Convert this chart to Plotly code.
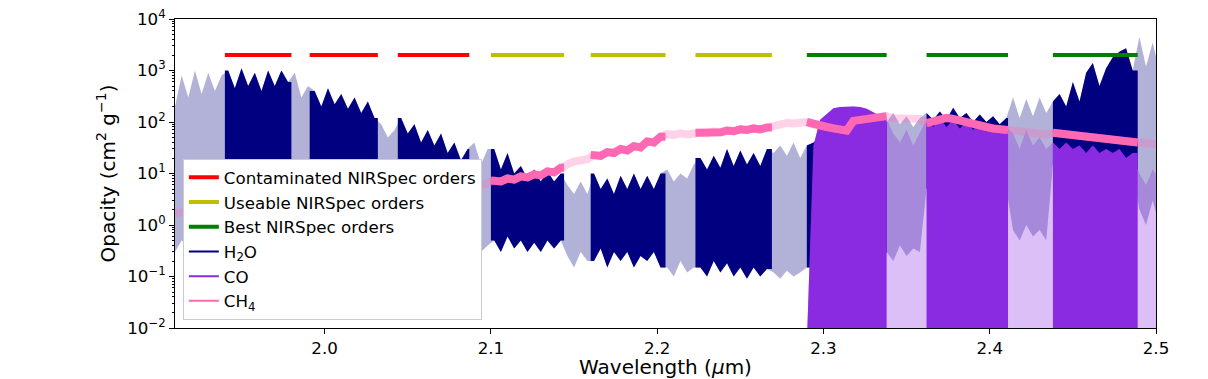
"""
Opacity of H2O, CO and CH4 across the K band, with the NIRSpec orders marked.
The line forests are drawn as filled bands between the lower and upper
envelopes read off the spectrum; inside an order they are drawn solid,
outside it faded.
"""

import numpy as np
import plotly.graph_objects as go

# ---------------------------------------------------------------- data
# sampling grid of the envelopes (micron)
wavelength = np.round(np.arange(1.910, 2.503, 0.004), 3)

# H2O: upper envelope (line peaks) and lower envelope, cm^2 g^-1
h2o_top = [
    200, 800, 300, 1000, 350, 900, 400, 800,
    1000, 450, 1100, 500, 900, 400, 1000, 500, 1000, 600,
    900, 300, 500,
    400, 200, 450, 220, 350, 180, 300, 150, 250, 120,
    90, 50, 70,
    120, 60, 90, 40, 70, 35, 60, 25, 40, 18, 30,
    40, 15, 30,
    30, 12, 25, 10, 14, 8, 12, 7, 11, 7, 10,
    6, 4, 7, 4,
    10, 5, 8, 4, 9, 5, 10, 5, 9, 5, 10,
    12, 7, 10, 8, 15,
    20, 12, 22, 13, 30, 14, 28, 15, 25, 14, 30,
    25, 35, 22, 40, 20, 35,
    40, 50, 80, 50, 90, 60, 80, 50, 70, 60, 80,
    100, 150, 90, 130, 80, 120,
    150, 110, 160, 110, 190, 120, 150, 100, 140, 100, 130, 90, 120,
    300, 120, 280, 130, 300, 150,
    250, 350, 200, 600, 250, 900, 1400, 500, 1100, 1800, 2300, 2700, 1000,
    4500, 1200, 3500, 1000,
]
h2o_base = [
    0.3, 0.5, 0.4, 0.6, 0.5, 0.7, 0.5, 0.6,
    0.6, 0.8, 0.5, 0.7, 0.6, 0.8, 0.5, 0.7, 0.6, 0.7,
    0.5, 0.6, 0.5,
    0.6, 0.5, 0.7, 0.5, 0.6, 0.4, 0.6, 0.5, 0.6, 0.4,
    0.5, 0.4, 0.5,
    0.5, 0.4, 0.6, 0.4, 0.5, 0.3, 0.5, 0.4, 0.5, 0.3, 0.4,
    0.4, 0.3, 0.4,
    0.5, 0.3, 0.6, 0.35, 0.5, 0.3, 0.45, 0.3, 0.5, 0.35, 0.5,
    0.25, 0.15, 0.3, 0.2,
    0.2, 0.35, 0.15, 0.3, 0.2, 0.3, 0.15, 0.25, 0.2, 0.3, 0.15,
    0.15, 0.1, 0.2, 0.12, 0.15,
    0.15, 0.1, 0.2, 0.12, 0.18, 0.1, 0.15, 0.09, 0.15, 0.1, 0.14,
    0.12, 0.09, 0.13, 0.1, 0.12, 0.15,
    0.15, 0.2, 0.15, 0.2, 0.15, 0.2, 0.15, 0.2, 0.15, 0.2, 0.15,
    0.3, 0.2, 0.4, 0.25, 0.35, 0.3,
    5, 8, 4, 10, 5, 8, 4, 8, 5, 9, 4, 7, 5,
    0.8, 0.5, 1, 0.6, 0.8, 0.5,
    15, 20, 12, 18, 14, 20, 12, 18, 14, 16, 12, 15, 12,
    2, 1, 3, 1,
]

# CO: only redward of the 2-0 band head; lines reach below the axis floor
co_start = 2.290
co_top = [
    0.005,
    35, 110, 145, 185, 195, 200, 200, 195, 180, 155, 130, 115,
    60, 40, 70, 35, 60,
    110, 80, 120, 80, 110, 75, 100, 70, 95, 65, 90, 60, 80,
    60, 30, 70, 35, 50, 30,
    40, 30, 40, 30, 35, 25, 35, 25, 30, 25, 30, 20, 25,
    10, 6, 12, 8,
]
co_floor = 0.005

# CH4: narrow pseudo-continuum
ch4_mid = [
    1.7, 1.8, 1.75, 1.9, 1.85, 2.0, 1.95, 2.1,
    2.05, 2.2, 2.15, 2.3, 2.25, 2.45, 2.4, 2.55, 2.5, 2.7,
    2.65, 2.85, 2.8,
    3.0, 2.95, 3.2, 3.1, 3.4, 3.3, 3.6, 3.5, 3.8, 3.75,
    4.0, 3.95, 4.2,
    4.15, 4.45, 4.4, 4.7, 4.65, 5.0, 4.9, 5.3, 5.2, 5.6, 5.5,
    6.0, 5.9, 6.4,
    7.3, 7.0, 8.0, 7.6, 8.8, 8.4, 9.6, 9.2, 11, 10.5, 13,
    15, 17, 18, 19,
    23, 22, 26, 25, 30, 28, 34, 32, 42, 40, 52,
    58, 56, 60, 57, 60,
    62, 60, 65, 63, 68, 66, 72, 70, 75, 72, 78,
    88, 92, 96, 94, 100, 100,
    90, 85, 80, 75, 70, 68, 105, 110, 115, 120, 125, 130,
    118, 115, 120, 110, 115,
    95, 105, 110, 120, 115, 105, 100, 90, 85, 80, 75, 72, 70,
    65, 62, 60, 58, 58, 57,
    62, 60, 58, 55, 53, 52, 50, 48, 46, 45, 43, 42, 40,
    40, 38, 37, 36,
]

# NIRSpec echelle orders (micron)
contaminated_orders = [(1.940, 1.980), (1.991, 2.032), (2.044, 2.087)]
useable_orders = [(2.100, 2.144), (2.160, 2.205), (2.223, 2.269)]
best_orders = [(2.290, 2.338), (2.362, 2.411), (2.438, 2.489)]
order_level = 2000

# ---------------------------------------------------------------- helpers
all_orders = contaminated_orders + useable_orders + best_orders


def clip_to(wl, values, lo, hi):
    """Samples inside [lo, hi], held out to the exact order edges."""
    values = np.asarray(values, dtype=float)
    idx = np.flatnonzero((wl >= lo) & (wl <= hi))
    x = np.r_[lo, wl[idx], hi]
    y = np.r_[values[idx[0]], values[idx], values[idx[-1]]]
    return x, y


def add_band(fig, wl, lower, upper, color):
    fig.add_trace(go.Scatter(x=wl, y=lower, mode="lines", line=dict(width=0),
                             showlegend=False, hoverinfo="skip"))
    fig.add_trace(go.Scatter(x=wl, y=upper, mode="lines", line=dict(width=0),
                             fill="tonexty", fillcolor=color,
                             showlegend=False, hoverinfo="skip"))


def add_species_band(fig, wl, lower, upper, solid, faded):
    add_band(fig, wl, lower, upper, faded)
    for lo, hi in all_orders:
        if hi < wl[0]:
            continue
        x, ylo = clip_to(wl, lower, lo, hi)
        _, yhi = clip_to(wl, upper, lo, hi)
        add_band(fig, x, ylo, yhi, solid)


fig = go.Figure()

# H2O
add_species_band(fig, wavelength, h2o_base, h2o_top,
                 "#000080", "rgba(0,0,128,0.3)")

# CO
co_wl = wavelength[wavelength >= co_start]
add_species_band(fig, co_wl, [co_floor] * len(co_wl), co_top,
                 "#8a2be2", "rgba(138,43,226,0.3)")

# CH4
fig.add_trace(go.Scatter(x=wavelength, y=ch4_mid, mode="lines",
                         line=dict(color="rgba(255,105,180,0.3)", width=8),
                         showlegend=False, hoverinfo="skip"))
for lo, hi in all_orders:
    x, y = clip_to(wavelength, ch4_mid, lo, hi)
    fig.add_trace(go.Scatter(x=x, y=y, mode="lines",
                             line=dict(color="#ff69b4", width=8),
                             showlegend=False, hoverinfo="skip"))

# order bars
for rank, (name, orders, color) in enumerate([
    ("Contaminated NIRSpec orders", contaminated_orders, "#ff0000"),
    ("Useable NIRSpec orders", useable_orders, "#bfbf00"),
    ("Best NIRSpec orders", best_orders, "#008000"),
]):
    xs, ys = [], []
    for lo, hi in orders:
        xs += [lo, hi, None]
        ys += [order_level, order_level, None]
    fig.add_trace(go.Scatter(x=xs, y=ys, mode="lines", name=name,
                             line=dict(color=color, width=4),
                             legendrank=rank + 1))

# legend keys for the spectra
for rank, (name, color) in enumerate([
    ("H<sub>2</sub>O", "#000080"),
    ("CO", "#8a2be2"),
    ("CH<sub>4</sub>", "#ff69b4"),
]):
    fig.add_trace(go.Scatter(x=[None], y=[None], mode="lines", name=name,
                             line=dict(color=color, width=2),
                             legendrank=rank + 4))

decades = [-2, -1, 0, 1, 2, 3, 4]
minor_vals = [m * 10.0 ** e for e in decades[:-1] for m in range(2, 10)]

fig.update_layout(
    width=1208,
    height=379,
    margin=dict(l=175, r=52, t=19, b=51),
    plot_bgcolor="white",
    paper_bgcolor="white",
    font=dict(family="DejaVu Sans", size=16.7, color="black"),
    legend=dict(
        x=0.008, y=0.026, xanchor="left", yanchor="bottom",
        traceorder="normal",
        bgcolor="white", bordercolor="#cccccc", borderwidth=1,
        font=dict(size=16.7), tracegroupgap=0,
    ),
    xaxis=dict(
        range=[1.91, 2.5],
        automargin=False,
        ticklabeloverflow="allow",
        tickvals=[2.0, 2.1, 2.2, 2.3, 2.4, 2.5],
        ticktext=["2.0", "2.1", "2.2", "2.3", "2.4", "2.5"],
        ticks="outside", ticklen=5, tickcolor="black",
        showline=True, linecolor="black", linewidth=1, mirror=True,
        showgrid=False, zeroline=False,
        title=dict(text="Wavelength (<i>μ</i>m)", standoff=9),
    ),
    yaxis=dict(
        type="log",
        range=[-2, 4],
        automargin=False,
        ticklabeloverflow="allow",
        tickvals=[10.0 ** e for e in decades],
        ticktext=["10<sup>%s</sup>" % str(e).replace("-", "−") for e in decades],
        ticks="outside", ticklen=5, tickcolor="black",
        minor=dict(tickvals=minor_vals, ticks="outside", ticklen=2.5,
                   tickcolor="black", showgrid=False),
        showline=True, linecolor="black", linewidth=1, mirror=True,
        showgrid=False, zeroline=False,
        title=dict(text="Opacity (cm<sup>2</sup> g<sup>−1</sup>)", standoff=6),
    ),
)

# drop the page's default body margin so the figure sits at the corner
fig.write_html("out.html", config={"displayModeBar": False},
               post_script="document.body.style.margin = '0';")
